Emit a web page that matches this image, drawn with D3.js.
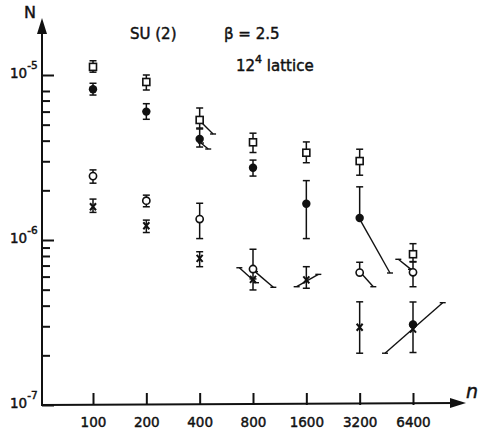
<!DOCTYPE html>
<html>
<head>
<meta charset="utf-8">
<script src="https://cdn.jsdelivr.net/npm/d3@7"></script>
<style>
  body { margin: 0; background: #fff; }
  svg text { font-family: "DejaVu Sans", sans-serif; fill: #111; stroke: #111; stroke-width: 0.45; }
  .axis path.domain { display: none; }
  .axis line { stroke: #111; stroke-width: 2; }
</style>
</head>
<body>
<div id="chart"></div>
<script>
// lattice sizes on the n axis
const nValues = [100, 200, 400, 800, 1600, 3200, 6400];
// [n, N, lower, upper]; null = no bar drawn on that side
const squares = [
  [100, 1.12e-5, 1.04e-5, 1.22e-5],
  [200, 9.07e-6, 8.11e-6, 1.0e-5],
  [400, 5.34e-6, 4.77e-6, 6.31e-6],
  [800, 3.91e-6, 3.39e-6, 4.44e-6],
  [1600, 3.38e-6, 2.94e-6, 3.93e-6],
  [3200, 3.01e-6, 2.47e-6, 3.55e-6],
  [6400, 8.2e-7, 7.36e-7, 9.5e-7]
];
const filledCircles = [
  [100, 8.19e-6, 7.56e-6, 8.91e-6],
  [200, 6.0e-6, 5.39e-6, 6.70e-6],
  [400, 4.09e-6, 3.66e-6, 4.71e-6],
  [800, 2.74e-6, 2.44e-6, 3.05e-6],
  [1600, 1.66e-6, 1.02e-6, 2.29e-6],
  [3200, 1.36e-6, null, 2.10e-6],
  [6400, 3.08e-7, 2.08e-7, 4.21e-7]
];
const openCircles = [
  [100, 2.44e-6, 2.21e-6, 2.66e-6],
  [200, 1.73e-6, 1.59e-6, 1.87e-6],
  [400, 1.34e-6, 1.02e-6, 1.67e-6],
  [800, 6.67e-7, 5.81e-7, 8.79e-7],
  [3200, 6.35e-7, null, 7.33e-7],
  [6400, 6.37e-7, 5.21e-7, 7.4e-7]
];
const crosses = [
  [100, 1.59e-6, 1.47e-6, 1.77e-6],
  [200, 1.22e-6, 1.11e-6, 1.32e-6],
  [400, 7.74e-7, 6.89e-7, 8.49e-7],
  [800, 5.78e-7, 4.98e-7, null],
  [1600, 5.73e-7, 5.10e-7, 6.89e-7],
  [3200, 2.96e-7, 2.06e-7, 4.22e-7],
  [6400, 2.88e-7, null, null]
];
// fitted slopes: [n1, N1, n2, N2]
const fitLines = [
  [407, 5.19e-6, 476, 4.39e-6],
  [407, 3.87e-6, 447, 3.56e-6],
  [670, 6.79e-7, 832, 5.51e-7],
  [821, 6.43e-7, 1042, 5.17e-7],
  [1411, 5.21e-7, 1870, 6.19e-7],
  [3173, 1.36e-6, 4748, 6.31e-7],
  [3256, 6.31e-7, 3821, 5.21e-7],
  [5288, 7.64e-7, 6236, 6.64e-7],
  [4448, 2.06e-7, 9416, 4.17e-7]
];
const yMajor = [1e-7, 1e-6, 1e-5];
const yMajorLabels = ["-7", "-6", "-5"];
const yMinor = [2e-7, 3e-7, 4e-7, 5e-7, 6e-7, 7e-7, 8e-7, 9e-7,
                2e-6, 3e-6, 4e-6, 5e-6, 6e-6, 7e-6, 8e-6];

const W = 485, H = 431;
const axisX = 42, axisY = 405;

const svg = d3.select("#chart").append("svg")
    .attr("width", W).attr("height", H);

const x = d3.scaleLog().base(2).domain([100, 6400]).range([93, 413]);
const y = d3.scaleLog().domain([1e-7, 1e-5]).range([axisY, 75]);

// axis lines with arrows
svg.append("line").attr("x1", axisX).attr("y1", axisY + 1).attr("x2", axisX).attr("y2", 26)
  .attr("stroke", "#111").attr("stroke-width", 2);
svg.append("path").attr("d", `M${axisX},18 L${axisX - 5},34 L${axisX + 5},34 Z`).attr("fill", "#111");
svg.append("line").attr("x1", axisX - 1).attr("y1", axisY).attr("x2", 458).attr("y2", axisY - 2)
  .attr("stroke", "#111").attr("stroke-width", 2);
svg.append("path").attr("d", `M466,${axisY - 2} L450,${axisY - 7} L450,${axisY + 3} Z`).attr("fill", "#111");

// x ticks and labels
svg.append("g").attr("class", "axis")
  .attr("transform", `translate(0,${axisY})`)
  .call(d3.axisBottom(x).tickValues(nValues).tickFormat(d3.format("d"))
    .tickSizeInner(-12).tickSizeOuter(0).tickPadding(12))
  .selectAll("text").attr("font-size", 13.5).attr("font-family", "DejaVu Sans, sans-serif");

// y ticks
svg.append("g").attr("class", "axis")
  .attr("transform", `translate(${axisX},0)`)
  .call(d3.axisLeft(y).tickValues(yMajor).tickFormat("").tickSizeInner(-12).tickSizeOuter(0));
svg.append("g").attr("class", "axis")
  .attr("transform", `translate(${axisX},0)`)
  .call(d3.axisLeft(y).tickValues(yMinor).tickFormat("").tickSizeInner(-8).tickSizeOuter(0));

// y labels 10^k
yMajor.forEach((v, i) => {
  const t = svg.append("text").attr("x", 10).attr("y", y(v) + 3).attr("font-size", 13.5);
  t.append("tspan").text("10");
  t.append("tspan").attr("dy", -9).attr("font-size", 10.5).text(yMajorLabels[i]);
});

svg.append("text").attr("x", 24).attr("y", 18).attr("font-size", 16).text("N");
svg.append("text").attr("x", 466).attr("y", 398).attr("font-size", 19)
  .attr("font-style", "italic").attr("font-family", "DejaVu Serif, serif").text("n");

// header texts
svg.append("text").attr("x", 130).attr("y", 39).attr("font-size", 15).text("SU (2)");
svg.append("text").attr("x", 224).attr("y", 39).attr("font-size", 15).text("β = 2.5");
const lat = svg.append("text").attr("x", 236).attr("y", 71).attr("font-size", 15);
lat.append("tspan").text("12");
lat.append("tspan").attr("dy", -8).attr("font-size", 11).text("4");
lat.append("tspan").attr("dy", 8).text(" lattice");

// fit lines
const fits = svg.append("g").attr("stroke", "#111").attr("stroke-width", 1.4);
fitLines.forEach(d => {
  fits.append("line").attr("x1", x(d[0])).attr("y1", y(d[1])).attr("x2", x(d[2])).attr("y2", y(d[3]));
  [[d[0], d[1]], [d[2], d[3]]].forEach(p => {
    fits.append("line").attr("x1", x(p[0]) - 3).attr("x2", x(p[0]) + 3)
      .attr("y1", y(p[1])).attr("y2", y(p[1]));
  });
});

// error bars
function errorBars(data) {
  const g = svg.append("g").attr("stroke", "#111").attr("stroke-width", 1.5);
  data.forEach(d => {
    const cx = x(d[0]), cy = y(d[1]);
    [d[2], d[3]].forEach(e => {
      if (e === null) return;
      g.append("line").attr("x1", cx).attr("x2", cx).attr("y1", cy).attr("y2", y(e));
      g.append("line").attr("x1", cx - 3.5).attr("x2", cx + 3.5).attr("y1", y(e)).attr("y2", y(e));
    });
  });
}
[squares, filledCircles, openCircles, crosses].forEach(errorBars);

// markers
svg.append("g").selectAll("rect").data(squares).join("rect")
  .attr("x", d => x(d[0]) - 3.5).attr("y", d => y(d[1]) - 3.5)
  .attr("width", 7).attr("height", 7)
  .attr("fill", "#fff").attr("stroke", "#111").attr("stroke-width", 1.6);

svg.append("g").selectAll("circle").data(filledCircles).join("circle")
  .attr("cx", d => x(d[0])).attr("cy", d => y(d[1])).attr("r", 4.2)
  .attr("fill", "#111");

svg.append("g").selectAll("circle").data(openCircles).join("circle")
  .attr("cx", d => x(d[0])).attr("cy", d => y(d[1])).attr("r", 3.6)
  .attr("fill", "#fff").attr("stroke", "#111").attr("stroke-width", 1.6);

svg.append("g").selectAll("path").data(crosses).join("path")
  .attr("d", d => {
    const cx = x(d[0]), cy = y(d[1]);
    return `M${cx - 3},${cy - 3.5}L${cx + 3},${cy + 3.5}M${cx + 3},${cy - 3.5}L${cx - 3},${cy + 3.5}`;
  })
  .attr("stroke", "#111").attr("stroke-width", 2);
</script>
</body>
</html>
